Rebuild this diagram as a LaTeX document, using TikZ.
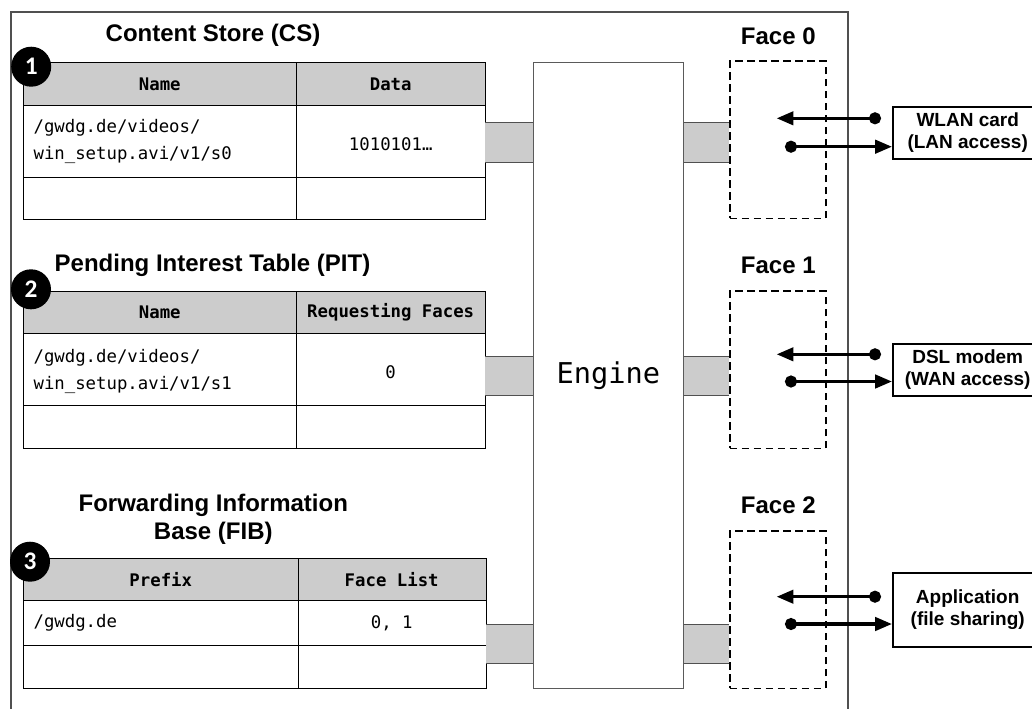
\documentclass[tikz,border=0pt]{standalone}
\usepackage{fontspec}
\setmainfont{Liberation Sans}
\newfontfamily\monof{DejaVu Sans Mono}
\newfontfamily\badgef{Carlito}
\usetikzlibrary{arrows.meta,calc}
\definecolor{hdrgray}{RGB}{204,204,204}
\definecolor{framegray}{RGB}{80,80,80}
\definecolor{enginegray}{RGB}{90,90,90}
\begin{document}
\begin{tikzpicture}[x=0.75pt,y=-0.75pt,
  titletext/.style={font=\fontsize{18}{21.2}\selectfont\bfseries, align=center},
  tblline/.style={draw=black, line width=0.75pt},
  hdrfill/.style={fill=hdrgray},
  celltext/.style={font=\monof\fontsize{13}{20.25}\selectfont, align=left, inner sep=0pt},
  hdrtext/.style={font=\monof\bfseries\fontsize{13}{15}\selectfont, inner sep=0pt},
  badge/.style={circle, fill=black, minimum size=30pt, inner sep=0pt, text=white, font=\badgef\bfseries\fontsize{19}{19}\selectfont},
  facebox/.style={draw=black, line width=1.2pt, dash pattern=on 5.5pt off 3.5pt, minimum width=71.8pt, minimum height=118pt, inner sep=0pt},
  facelabel/.style={font=\fontsize{18}{21}\selectfont\bfseries},
  devbox/.style={draw=black, line width=1.2pt, minimum width=112.5pt, inner sep=0pt, align=center, font=\fontsize{14.25}{16.3}\selectfont\bfseries},
  barfill/.style={fill=hdrgray},
  barline/.style={draw=framegray, line width=0.75pt},
  sig/.style={line width=2.3pt, {Circle[length=9pt]}-{Triangle[length=12.5pt,width=10pt]}},
]
\useasboundingbox (0,0) rectangle (1032,708);
\clip (0,0) rectangle (1032,708);

% outer frame
\draw[framegray, line width=0.8pt] (11,712) -- (11,12) -- (848,12) -- (848,712);

% ---------- Engine ----------
\node[draw=enginegray, line width=0.8pt, minimum width=112.5pt, minimum height=469.2pt, inner sep=0pt,
      font=\monof\fontsize{21.5}{24}\selectfont] (engine) at (608.3,375.5) {Engine};

% ---------- Faces ----------
\node[facebox] (face0) at (777.85,139.65) {};
\node[facebox] (face1) at (777.85,369.65) {};
\node[facebox] (face2) at (777.85,609.65) {};
\node[facelabel] (f0lab) at (778.3,36.7) {Face 0};
\node[facelabel] (f1lab) at (778.3,265) {Face 1};
\node[facelabel] (f2lab) at (778.3,505) {Face 2};

% ---------- CS table ----------
\node[titletext] (cstitle) at (213,35) {Content Store (CS)};
\fill[hdrfill] (23.3,62.7) rectangle (485,105);
\draw[tblline] (23.3,62.7) rectangle (485,219.3);
\draw[tblline] (23.3,105) -- (485,105) (23.3,177.3) -- (485,177.3) (296.3,62.7) -- (296.3,219.3);
\coordinate (csE) at (485,141);
\node[hdrtext] (csh1) at (159.8,84) {Name};
\node[hdrtext] (csh2) at (390.7,84) {Data};
\node[celltext, anchor=west] (csc1) at (33.3,141.5) {/gwdg.de/videos/\\win\_setup.avi/v1/s0};
\node[celltext] (csc2) at (390.7,144) {1010101…};
\node[badge] (b1) at (31.2,66.7) {1};

% ---------- PIT table ----------
\node[titletext] (pittitle) at (212.5,265) {Pending Interest Table (PIT)};
\fill[hdrfill] (23.3,291) rectangle (485,333.3);
\draw[tblline] (23.3,291) rectangle (485,448.3);
\draw[tblline] (23.3,333.3) -- (485,333.3) (23.3,405) -- (485,405) (296.3,291) -- (296.3,448.3);
\coordinate (pitE) at (485,375.5);
\node[hdrtext] (pith1) at (159.8,312.5) {Name};
\node[hdrtext] (pith2) at (390.7,312.5) {Requesting Faces};
\node[celltext, anchor=west] (pitc1) at (33.3,371.5) {/gwdg.de/videos/\\win\_setup.avi/v1/s1};
\node[celltext] (pitc2) at (390.7,371.7) {0};
\node[badge] (b2) at (31,289.3) {2};

% ---------- FIB table ----------
\node[titletext] (fibtitle) at (213.3,519) {Forwarding Information\\Base (FIB)};
\fill[hdrfill] (23.3,558.3) rectangle (486,600);
\draw[tblline] (23.3,558.3) rectangle (486,688.3);
\draw[tblline] (23.3,600) -- (486,600) (23.3,645.7) -- (486,645.7) (298.3,558.3) -- (298.3,688.3);
\coordinate (fibE) at (486,643.7);
\node[hdrtext] (fibh1) at (160.8,580) {Prefix};
\node[hdrtext] (fibh2) at (391.7,580) {Face List};
\node[celltext, anchor=west] (fibc1) at (33.3,623) {/gwdg.de};
\node[celltext] (fibc2) at (391.7,623) {0, 1};
\node[badge] (b3) at (30,561.7) {3};

% ---------- gray bars (table -> engine -> face) ----------
\foreach \tb/\fc/\yt/\yb in {csE/face0/122.7/162.3, pitE/face1/356/395, fibE/face2/624/663.3}{
  \coordinate (bt) at (0,\yt);
  \coordinate (bb) at (0,\yb);
  \fill[barfill] (\tb |- bt) rectangle (engine.west |- bb);
  \draw[barline] (\tb |- bt) -- (engine.west |- bt) (\tb |- bb) -- (engine.west |- bb);
  \fill[barfill] (engine.east |- bt) rectangle (\fc.west |- bb);
  \draw[barline] (engine.east |- bt) -- (\fc.west |- bt) (engine.east |- bb) -- (\fc.west |- bb);
}
% redraw dashed face borders on top
\node[facebox] at (face0) {};
\node[facebox] at (face1) {};
\node[facebox] at (face2) {};

% ---------- devices ----------
\node[devbox, minimum height=39.2pt] (wlan) at (967.7,132.85) {WLAN card\\(LAN access)};
\node[devbox, minimum height=38.8pt] (dsl) at (967.7,369.85) {DSL modem\\(WAN access)};
\node[devbox, minimum height=55.5pt] (app) at (967.7,609.7) {Application\\(file sharing)};

% ---------- arrows ----------
\foreach \dev/\yu/\yl in {wlan/118.3/146.7, dsl/354.3/381.5, app/596.7/624}{
  \coordinate (src) at (881,\yu);
  \coordinate (dst) at (776.7,\yu);
  \coordinate (isrc) at (785,\yl);
  \draw[sig] (src) -- (dst);
  \draw[sig] (isrc) -- (isrc -| \dev.west);
}
\end{tikzpicture}
\end{document}
